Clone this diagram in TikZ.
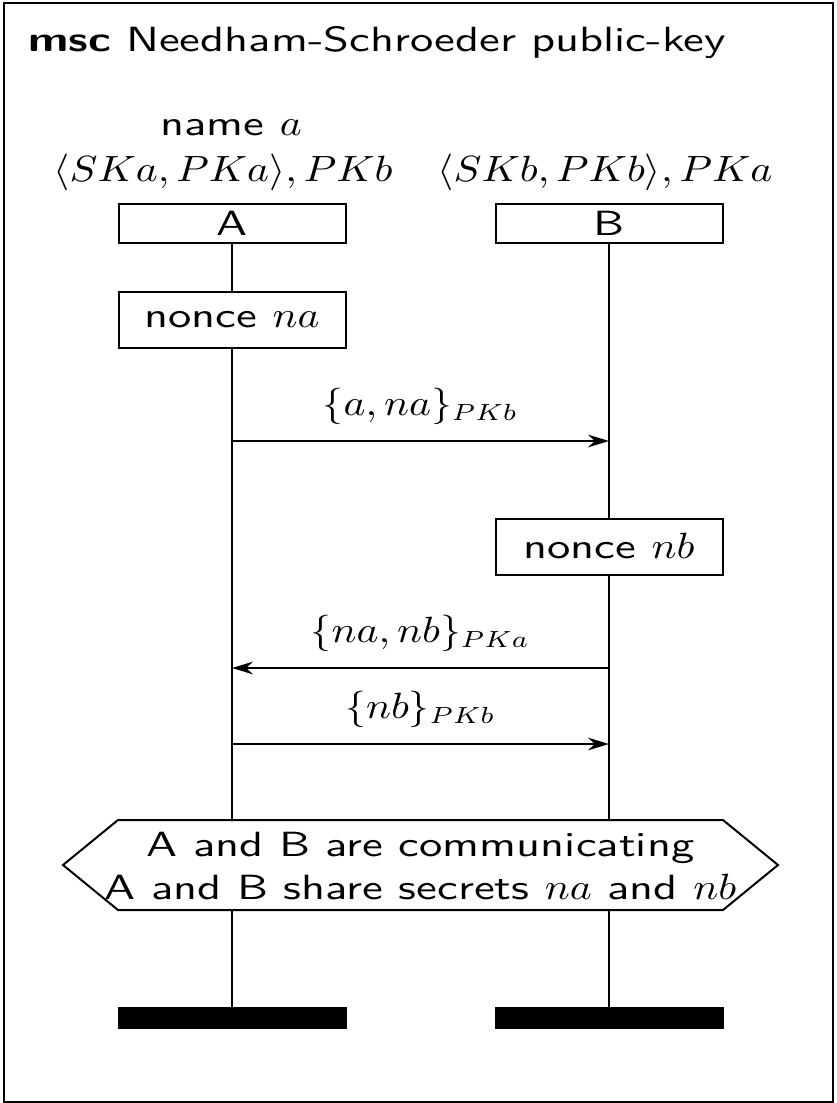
\documentclass[tikz,border=0pt]{standalone}
\usetikzlibrary{arrows.meta}
\newcommand{\wt}[1]{\scalebox{1.33}[1]{#1}}
\newcommand{\wm}[1]{\scalebox{1.14}[1]{$#1$}}
\begin{document}
\begin{tikzpicture}[x=0.3pt,y=-0.3pt,line width=0.6pt,
  every node/.style={font=\sffamily\fontsize{10.5}{12.6}\selectfont},
  inst/.style={draw,fill=white,minimum width=68.1pt,minimum height=11.7pt,inner sep=0pt},
  action/.style={draw,fill=white,minimum width=68.1pt,minimum height=16.8pt,inner sep=0pt},
  stopbar/.style={draw,fill=black,minimum width=68.1pt,minimum height=6pt,inner sep=0pt},
  msg/.style={-{Stealth[length=6.3pt,width=3.8pt]}},
  lbl/.style={anchor=base,yshift=7.8pt,inner sep=0pt}]
\useasboundingbox (0,0) rectangle (836,1103);
\draw (4,3) rectangle (833,1102);
\node[anchor=base west,inner sep=0pt] (title) at (27,51) {\wt{\textbf{msc} Needham-Schroeder public-key}};
% instance heads
\node[inst] (A) at (232,223.5) {\wt{A}};
\node[inst] (B) at (609,223.5) {\wt{B}};
\node[anchor=base,inner sep=0pt] (Aname1) at (231,135) {\wt{name }\wm{a}};
\node[anchor=base,inner sep=0pt] (Aname2) at (223,181) {\wm{\langle SKa,PKa\rangle,PKb}};
\node[anchor=base,inner sep=0pt] (Bname) at (605,181) {\wm{\langle SKb,PKb\rangle,PKa}};
% stop bars
\node[stopbar] (Aend) at (232,1018) {};
\node[stopbar] (Bend) at (609,1018) {};
% lifelines
\draw (A.south) -- (Aend.north);
\draw (B.south) -- (Bend.north);
% actions
\node[action] (na) at (232,320) {\wt{nonce }\wm{na}};
\node[action] (nb) at (609,546.5) {\wt{nonce }\wm{nb}};
% messages
\coordinate (m1a) at (232,441);
\coordinate (m1b) at (609,441);
\coordinate (m2a) at (232,668);
\coordinate (m2b) at (609,668);
\coordinate (m3a) at (232,744);
\coordinate (m3b) at (609,744);
\draw[msg] (m1a) -- node[lbl] {\wm{\{a,na\}_{PKb}}} (m1b);
\draw[msg] (m2b) -- node[lbl] {\wm{\{na,nb\}_{PKa}}} (m2a);
\draw[msg] (m3a) -- node[lbl] {\wm{\{nb\}_{PKb}}} (m3b);
% condition
\draw[fill=white] (63,865) -- (118,820) -- (723,820) -- (778,865) -- (723,910) -- (118,910) -- cycle;
\node[align=center,font=\sffamily\fontsize{10.5}{12.9}\selectfont,inner sep=0pt] (cond) at (420.5,866)
  {\wt{A and B are communicating}\\\wt{A and B share secrets }\wm{na}\wt{ and }\wm{nb}};
\end{tikzpicture}
\end{document}
